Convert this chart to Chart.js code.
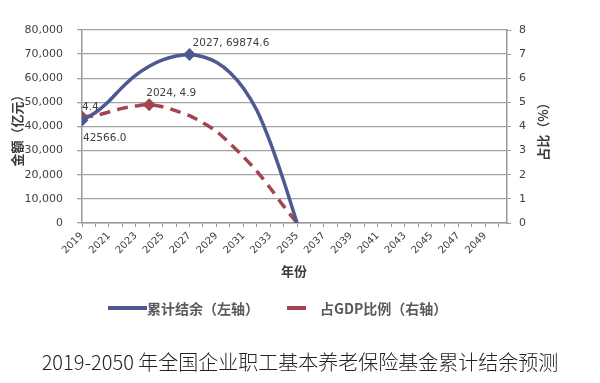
<!DOCTYPE html>
<html>
<head>
<meta charset="utf-8">
<script src="https://cdn.jsdelivr.net/npm/chart.js@4.4.1/dist/chart.umd.min.js"></script>
<style>
  body { margin: 0; background: #fff; }
  #box { position: relative; width: 600px; height: 383px; overflow: hidden; }
  #chart { position: absolute; left: 0; top: 0; }
  .lg-line { position: absolute; height: 4px; }
  .lg-text { position: absolute; font: bold 14px "Noto Sans CJK SC", sans-serif; color: #5a5a5a; line-height: 20px; white-space: nowrap; }
  #title { position: absolute; left: 0; width: 600px; top: 348px; text-align: center;
           font: 300 20px "Noto Sans CJK SC", sans-serif; color: #222; line-height: 28px; white-space: nowrap; }
</style>
</head>
<body>
<div id="box">
  <canvas id="chart" width="600" height="383"></canvas>
  <div class="lg-line" style="left:108px;top:306px;width:39px;background:#4d5a92"></div>
  <div class="lg-text" style="left:147px;top:298px">累计结余（左轴）</div>
  <div class="lg-line" style="left:287px;top:306px;width:19px;background:#a3444f"></div>
  <div class="lg-text" style="left:320px;top:298px">占GDP比例（右轴）</div>
  <div id="title">2019-2050 年全国企业职工基本养老保险基金累计结余预测</div>
</div>
<script>
// años del eje x
const years = ['2019', '2020', '2021', '2022', '2023', '2024', '2025', '2026',
  '2027', '2028', '2029', '2030', '2031', '2032', '2033', '2034',
  '2035', '2036', '2037', '2038', '2039', '2040', '2041', '2042',
  '2043', '2044', '2045', '2046', '2047', '2048', '2049', '2050'];

// 累计结余 (亿元), eje izquierdo
const balance = [42566.0, 45800, 50500, 56300, 61300, 65000, 67600, 69200,
  69874.6, 68900, 66600, 62400, 56000, 46800, 33500, 17500,
  0, null, null, null, null, null, null, null,
  null, null, null, null, null, null, null, null];

// 占GDP比例 (%), eje derecho
const gdpRatio = [4.4, 4.45, 4.6, 4.75, 4.85, 4.9, 4.82, 4.65,
  4.45, 4.15, 3.8, 3.3, 2.75, 2.15, 1.45, 0.7,
  0, null, null, null, null, null, null, null,
  null, null, null, null, null, null, null, null];

const leftTicks = [0, 80000, 10000];   // min, max, step
const rightTicks = [0, 8, 1];

// etiquetas de datos
const balanceNotes = { '2019': '42566.0', '2027': '2027, 69874.6' };
const ratioNotes = { '2019': '4.4', '2024': '2024, 4.9' };

const blue = '#4d5a92';
const red = '#a3444f';

Chart.defaults.font.family = '"DejaVu Sans", sans-serif';
Chart.defaults.color = '#404040';

// desplazamientos de las etiquetas (px)
const noteOffsets = {
  b2019: [1, 18], b2027: [3, -11],
  r2019: [0, -10], r2024: [-3, -12]
};

const extras = {
  id: 'extras',
  afterDatasetsDraw(chart) {
    const { ctx, scales } = chart;
    ctx.save();
    ctx.fillStyle = '#404040';
    ctx.font = '10.5px "DejaVu Sans"';
    ctx.textAlign = 'left';
    ctx.textBaseline = 'middle';
    Object.keys(balanceNotes).forEach(yr => {
      const i = years.indexOf(yr);
      const o = noteOffsets['b' + yr];
      ctx.fillText(balanceNotes[yr], scales.x.getPixelForValue(+yr) + o[0], scales.y.getPixelForValue(balance[i]) + o[1]);
    });
    Object.keys(ratioNotes).forEach(yr => {
      const i = years.indexOf(yr);
      const o = noteOffsets['r' + yr];
      ctx.fillText(ratioNotes[yr], scales.x.getPixelForValue(+yr) + o[0], scales.y1.getPixelForValue(gdpRatio[i]) + o[1]);
    });

    // títulos de los ejes
    ctx.font = 'bold 13px "Noto Sans CJK SC"';
    ctx.textAlign = 'center';
    ctx.fillStyle = '#3a3a3a';
    const mid = (chart.chartArea.top + chart.chartArea.bottom) / 2;
    ctx.save();
    ctx.translate(17, mid + 1);
    ctx.rotate(-Math.PI / 2);
    ctx.fillText('金额（亿元）', 0, 0);
    ctx.restore();
    ctx.save();
    ctx.translate(543, mid + 2);
    ctx.rotate(-Math.PI / 2);
    ctx.fillText('占比（%）', 0, 0);
    ctx.restore();
    ctx.fillText('年份', 294, 271);
    ctx.restore();
  }
};

new Chart(document.getElementById('chart').getContext('2d'), {
  type: 'line',
  data: {
    datasets: [
      {
        label: '累计结余（左轴）',
        data: years.map((y, i) => ({ x: +y, y: balance[i] })),
        yAxisID: 'y',
        borderColor: blue,
        backgroundColor: blue,
        borderWidth: 3.5,
        tension: 0.3,
        pointStyle: 'rectRot',
        pointRadius: c => balanceNotes[years[c.dataIndex]] ? 4 : 0,
        spanGaps: false,
      },
      {
        label: '占GDP比例（右轴）',
        data: years.map((y, i) => ({ x: +y, y: gdpRatio[i] })),
        yAxisID: 'y1',
        borderColor: red,
        backgroundColor: red,
        borderWidth: 3.5,
        borderDash: [11, 7],
        tension: 0.3,
        pointStyle: 'rectRot',
        pointRadius: c => ratioNotes[years[c.dataIndex]] ? 4 : 0,
        spanGaps: false,
      },
    ],
  },
  options: {
    responsive: false,
    animation: false,
    layout: { padding: { top: 30, left: 0, right: 0, bottom: 100 } },
    plugins: { legend: { display: false }, tooltip: { enabled: false } },
    scales: {
      x: {
        type: 'linear',
        min: +years[0],
        max: +years[years.length - 1] + 0.62,
        afterBuildTicks: s => { s.ticks = years.map(y => ({ value: +y })); },
        afterFit: s => { s.height = 60; },
        grid: { drawOnChartArea: false, tickLength: 4, color: '#999' },
        border: { color: '#999', width: 1.5 },
        ticks: {
          autoSkip: false,
          minRotation: 45,
          maxRotation: 45,
          padding: 3,
          font: { size: 10 },
          callback: v => (v % 2 === 1 ? String(v) : ''),
        },
      },
      y: {
        position: 'left',
        min: leftTicks[0],
        max: leftTicks[1],
        afterFit: s => { s.width = 82; },
        grid: { color: '#a3a3a3', lineWidth: 1.3, tickLength: 5 },
        border: { color: '#999', width: 1.5 },
        ticks: { stepSize: leftTicks[2], padding: 14, font: { size: 11 } },
      },
      y1: {
        position: 'right',
        min: rightTicks[0],
        max: rightTicks[1],
        afterFit: s => { s.width = 93; },
        grid: { drawOnChartArea: false, tickLength: 4, color: '#999' },
        border: { color: '#999', width: 1.5 },
        ticks: { stepSize: rightTicks[2], padding: 8, font: { size: 11 } },
      },
    },
  },
  plugins: [extras],
});
</script>
</body>
</html>
